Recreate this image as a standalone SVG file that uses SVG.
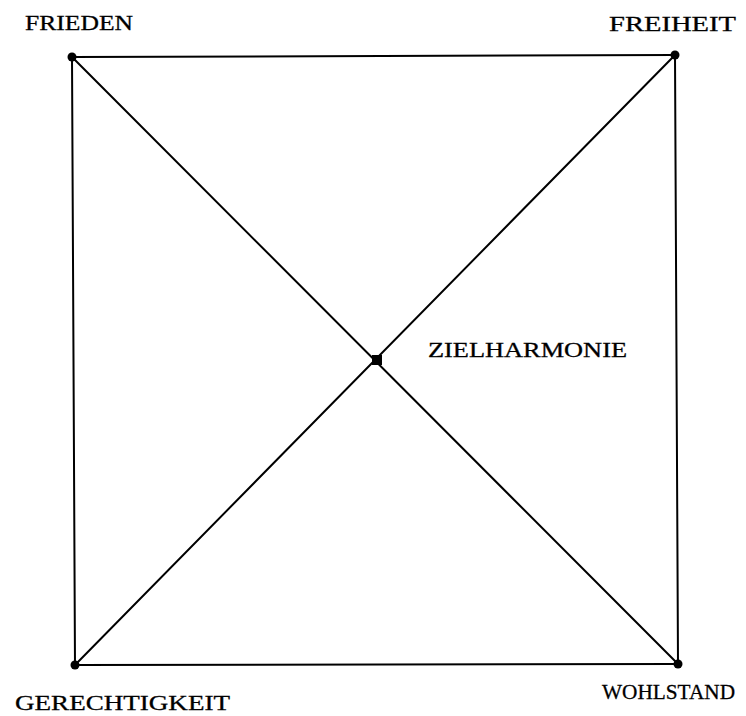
<svg xmlns="http://www.w3.org/2000/svg" width="746" height="716" viewBox="0 0 746 716">
<style>
.e{stroke:#000;stroke-width:2;fill:none;stroke-linecap:round}
.d{fill:#000}
.t{font-family:"Liberation Serif","Times New Roman",serif;font-size:22px;fill:#000;stroke:#000;stroke-width:0.3}
</style>
<rect width="746" height="716" fill="#fff"/>
<g id="connectors">
<line class="e" x1="72" y1="57" x2="675" y2="55"/>
<line class="e" x1="72" y1="57" x2="75" y2="665"/>
<line class="e" x1="75" y1="665" x2="678" y2="664"/>
<line class="e" x1="675" y1="55" x2="678" y2="664"/>
<line class="e" x1="72" y1="57" x2="678" y2="664"/>
<line class="e" x1="675" y1="55" x2="75" y2="665"/>
</g>
<g id="frieden"><circle class="d" cx="72" cy="57" r="4.5"/><text class="t" x="25" y="30" textLength="108" lengthAdjust="spacingAndGlyphs">FRIEDEN</text></g>
<g id="freiheit"><circle class="d" cx="675" cy="55" r="4.5"/><text class="t" x="609" y="31" textLength="127" lengthAdjust="spacingAndGlyphs">FREIHEIT</text></g>
<g id="gerechtigkeit"><circle class="d" cx="75" cy="665" r="4.5"/><text class="t" x="15" y="710" textLength="215" lengthAdjust="spacingAndGlyphs">GERECHTIGKEIT</text></g>
<g id="wohlstand"><circle class="d" cx="678" cy="664" r="4.5"/><text class="t" x="602" y="699" textLength="133" lengthAdjust="spacingAndGlyphs">WOHLSTAND</text></g>
<g id="zielharmonie"><rect class="d" x="372" y="355" width="10" height="10"/><text class="t" x="428" y="357" textLength="199" lengthAdjust="spacingAndGlyphs">ZIELHARMONIE</text></g>
</svg>
